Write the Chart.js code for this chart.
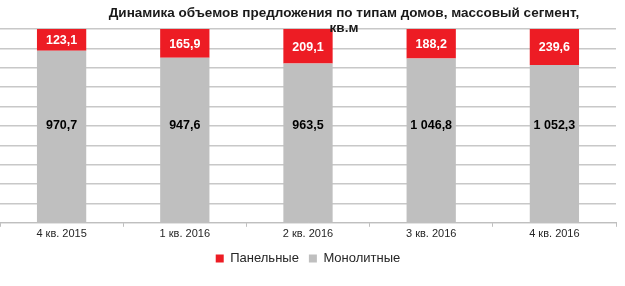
<!DOCTYPE html>
<html>
<head>
<meta charset="utf-8">
<script src="https://cdn.jsdelivr.net/npm/chart.js@4/dist/chart.umd.min.js"></script>
<style>
  html, body { margin: 0; padding: 0; background: #fff; }
  #wrap { position: relative; width: 625px; height: 286px; }
  #titulo {
    position: absolute; left: 84px; width: 520px; top: 5px;
    text-align: center; font: bold 13.5px "Liberation Sans", Arial, sans-serif;
    line-height: 15px; color: #1a1a1a;
  }
</style>
</head>
<body>
<div id="wrap">
  <canvas id="grafico" width="625" height="286"></canvas>
  <div id="titulo">Динамика объемов предложения по типам домов, массовый сегмент,<br>кв.м</div>
</div>
<script>
const categorias = ['4 кв. 2015', '1 кв. 2016', '2 кв. 2016', '3 кв. 2016', '4 кв. 2016'];
const panelnye = [123.1, 165.9, 209.1, 188.2, 239.6];
const monolitnye = [970.7, 947.6, 963.5, 1046.8, 1052.3];

const totales = categorias.map((_, i) => panelnye[i] + monolitnye[i]);
const pctPanel = panelnye.map((v, i) => v / totales[i] * 100);
const pctMono = monolitnye.map((v, i) => v / totales[i] * 100);

function formato(v) {
  const [ent, dec] = v.toFixed(1).split('.');
  return ent.replace(/\B(?=(\d{3})+(?!\d))/g, ' ') + ',' + dec;
}

const etiquetas = {
  id: 'etiquetas',
  afterDatasetsDraw(chart) {
    const ctx = chart.ctx;
    const y = chart.scales.y;
    ctx.save();
    ctx.font = 'bold 12.5px "Liberation Sans", Arial, sans-serif';
    ctx.textAlign = 'center';
    ctx.textBaseline = 'middle';
    chart.data.datasets.forEach((ds, di) => {
      chart.getDatasetMeta(di).data.forEach((bar, i) => {
        const valor = ds.raw[i];
        if (di === 1) {
          ctx.fillStyle = '#ffffff';
          ctx.fillText(formato(valor), bar.x, (bar.y + bar.base) / 2 + 1);
        } else {
          ctx.fillStyle = '#000000';
          ctx.fillText(formato(valor), bar.x, y.getPixelForValue(50));
        }
      });
    });
    ctx.restore();
  }
};

new Chart(document.querySelector('#grafico'), {
  type: 'bar',
  data: {
    labels: categorias,
    datasets: [
      { label: 'Монолитные', data: pctMono, raw: monolitnye, backgroundColor: '#bfbfbf' },
      { label: 'Панельные', data: pctPanel, raw: panelnye, backgroundColor: '#ed1c24' }
    ]
  },
  options: {
    responsive: false,
    animation: false,
    categoryPercentage: 1,
    barPercentage: 0.4,
    layout: { padding: { top: 29, right: 9, left: 0, bottom: 11 } },
    plugins: {
      title: { display: false },
      tooltip: { enabled: false },
      legend: {
        position: 'bottom',
        reverse: true,
        labels: {
          boxWidth: 8, boxHeight: 8, padding: 10, color: '#262626',
          font: { family: '"Liberation Sans", Arial, sans-serif', size: 13 }
        }
      }
    },
    scales: {
      x: {
        stacked: true,
        grid: { drawOnChartArea: false, drawTicks: true, tickLength: 4, color: '#bfbfbf' },
        border: { display: true, color: '#bfbfbf', width: 1 },
        ticks: { color: '#262626', padding: 1, font: { family: '"Liberation Sans", Arial, sans-serif', size: 11 } }
      },
      y: {
        stacked: true,
        min: 0, max: 100,
        ticks: { display: false, stepSize: 10 },
        grid: { color: '#c8c8c8', lineWidth: 1.5, drawTicks: false },
        border: { display: false }
      }
    }
  },
  plugins: [etiquetas]
});
</script>
</body>
</html>
